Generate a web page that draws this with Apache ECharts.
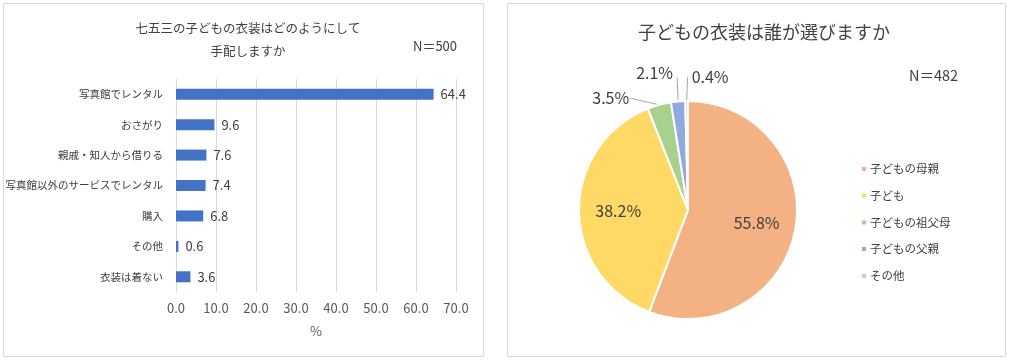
<!DOCTYPE html>
<html><head><meta charset="utf-8">
<script src="https://cdn.jsdelivr.net/npm/echarts@6/dist/echarts.min.js"></script>
<style>html,body{margin:0;padding:0;background:#fff}#c{width:1010px;height:362px}</style>
</head><body><div id="c"></div>
<script>
const barCategories = ['写真館でレンタル','おさがり','親戚・知人から借りる','写真館以外のサービスでレンタル','購入','その他','衣装は着ない'];
const barValues = [64.4, 9.6, 7.6, 7.4, 6.8, 0.6, 3.6];
const barTicks = [0, 10, 20, 30, 40, 50, 60, 70];
const pieCategories = ['子どもの母親','子ども','子どもの祖父母','子どもの父親','その他'];
const pieValues = [55.8, 38.2, 3.5, 2.1, 0.4];
const pieColors = ['#F4B183','#FFD966','#A9D18E','#8FAADC','#C9C9C9'];

const FONT = '"Noto Sans CJK JP", "Noto Sans", sans-serif';
const PIE_C = [688, 210], PIE_R = 109;
const pieTotal = pieValues.reduce((a, b) => a + b, 0);
function midAngle(i) {
  let cum = 0;
  for (let k = 0; k < i; k++) cum += pieValues[k];
  return 2 * Math.PI * (cum + pieValues[i] / 2) / pieTotal;
}
function pt(theta, r) { return [PIE_C[0] + r * Math.sin(theta), PIE_C[1] - r * Math.cos(theta)]; }

const chart = echarts.init(document.getElementById('c'));
chart.setOption({
  animation: false,
  textStyle: { fontFamily: FONT },
  graphic: [
    { type: 'rect', shape: { x: 3.5, y: 3.5, width: 480, height: 353 }, style: { fill: 'none', stroke: '#d9d9d9', lineWidth: 1 } },
    { type: 'rect', shape: { x: 507.5, y: 3.5, width: 498, height: 353 }, style: { fill: 'none', stroke: '#d9d9d9', lineWidth: 1 } },
    { type: 'text', left: 413, top: 40, style: { text: 'N＝500', fontSize: 13, fill: '#404040', fontFamily: FONT } },
    { type: 'text', left: 909, top: 68, style: { text: 'N＝482', fontSize: 14.5, fill: '#404040', fontFamily: FONT } }
  ],
  title: [
    { text: '七五三の子どもの衣装はどのようにして\n手配しますか', left: 243, top: 12, textAlign: 'center',
      textStyle: { fontSize: 12.5, fontWeight: 'normal', color: '#404040', lineHeight: 23, fontFamily: FONT } },
    { text: '子どもの衣装は誰が選びますか', left: 759, top: 18, textAlign: 'center',
      textStyle: { fontSize: 18, fontWeight: 'normal', color: '#404040', fontFamily: FONT } }
  ],
  grid: { left: 176, top: 79, width: 280, height: 213, containLabel: false, outerBoundsMode: 'none' },
  xAxis: {
    type: 'value', min: 0, max: 70, interval: 10,
    axisLine: { show: false }, axisTick: { show: false },
    splitLine: { lineStyle: { color: '#d9d9d9' } },
    axisLabel: { formatter: v => barTicks.includes(v) ? v.toFixed(1) : '', color: '#595959', fontSize: 13, margin: 10 },
    name: '%', nameLocation: 'middle', nameGap: 33, nameTextStyle: { color: '#595959', fontSize: 13 }
  },
  yAxis: {
    type: 'category', data: barCategories, inverse: true,
    axisLine: { show: true, lineStyle: { color: '#d9d9d9' } }, axisTick: { show: false },
    axisLabel: { color: '#404040', fontSize: 10.5, margin: 13 }
  },
  legend: {
    orient: 'vertical', left: 855, top: 157, itemWidth: 6, itemHeight: 6, itemGap: 12.7,
    icon: 'rect', data: pieCategories,
    textStyle: { color: '#404040', fontSize: 11.5, lineHeight: 14, padding: [0, 0, 0, -2] }
  },
  series: [
    {
      type: 'bar', data: barValues, barWidth: 11,
      itemStyle: { color: '#4472C4' },
      label: { show: true, position: 'right', distance: 7, color: '#404040', fontSize: 13, formatter: p => p.value.toFixed(1) }
    },
    {
      type: 'pie', center: PIE_C, radius: PIE_R, startAngle: 90, clockwise: true,
      data: pieCategories.map((n, i) => ({
        name: n, value: pieValues[i], itemStyle: { color: pieColors[i] },
        label: i < 2 ? { position: 'inside' } : { position: 'outside' }
      })),
      itemStyle: { borderColor: '#fff', borderWidth: 2 },
      label: { formatter: p => p.value.toFixed(1) + '%', color: '#404040', fontSize: 16 },
      labelLine: { length: 14, length2: 10, lineStyle: { color: '#a6a6a6', width: 1 } },
      labelLayout: function (params) {
        const i = params.dataIndex;
        const th = midAngle(i);
        if (i < 2) {
          const p = pt(th, PIE_R * 0.64);
          return { x: p[0], y: p[1], align: 'center', verticalAlign: 'middle' };
        }
        const e = pt(th, PIE_R);
        if (i === 2) {
          return { x: e[0] - 30, y: e[1] - 7, align: 'right', verticalAlign: 'middle',
                   labelLinePoints: [e, [e[0] - 28, e[1] - 6.5], [e[0] - 29, e[1] - 6.5]] };
        }
        if (i === 3) {
          return { x: e[0] - 5, y: e[1] - 29, align: 'right', verticalAlign: 'middle',
                   labelLinePoints: [e, [e[0] - 1, e[1] - 24], [e[0] - 1, e[1] - 24]] };
        }
        return { x: e[0] + 5, y: e[1] - 24, align: 'left', verticalAlign: 'middle',
                 labelLinePoints: [e, [e[0] + 1, e[1] - 24], [e[0] + 1, e[1] - 24]] };
      },
      emphasis: { disabled: true }
    }
  ]
});
</script></body></html>
